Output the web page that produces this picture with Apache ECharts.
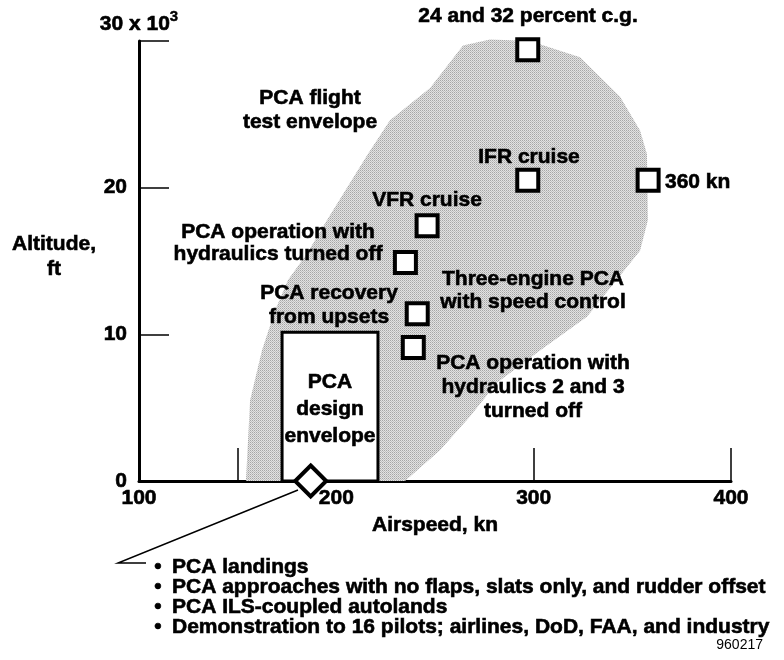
<!DOCTYPE html>
<html>
<head>
<meta charset="utf-8">
<script src="https://cdn.jsdelivr.net/npm/echarts@6/dist/echarts.min.js"></script>
<style>
html, body { margin: 0; background: #fff; }
#chart { width: 784px; height: 660px; }
</style>
</head>
<body>
<div id="chart"></div>
<script>
// PCA flight test envelope outline (airspeed kn, altitude x1000 ft)
var envelopeSpeed = [154.2, 156.3, 162.3, 168.9, 175.5, 185.1, 195.3, 205.4, 216.0, 227.2, 247.5, 264.2, 277.9, 298.1, 323.5, 343.8, 353.9, 357.4, 357.9, 353.9, 327.0, 303.2, 281.4, 267.7, 252.5, 234.8];
var envelopeAlt = [0, 5.5, 8.9, 11.6, 13.7, 15.5, 17.8, 20.0, 22.3, 24.6, 26.8, 29.7, 30.1, 30.0, 28.9, 26.2, 23.9, 22.3, 17.8, 15.7, 11.2, 8.9, 6.7, 4.4, 2.1, 0];

// test points (squares)
var pointSpeed = [297, 297, 358, 246, 235, 241, 239];
var pointAlt = [29.4, 20.5, 20.5, 17.4, 14.9, 11.4, 9.1];

// landing point (diamond)
var landingSpeed = [187];
var landingAlt = [0];

// PCA design envelope box
var designSpeed = [172.5, 221.1];
var designAlt = [0, 10.15];

// axis ticks / labels
var xLabels = [100, 200, 300, 400];
var xTicks = [150, 300, 400];
var yLabels = [0, 10, 20];
var yTicks = [10, 20, 30];

var notes = [
    'PCA landings',
    'PCA approaches with no flaps, slats only, and rudder offset',
    'PCA ILS-coupled autolands',
    'Demonstration to 16 pilots; airlines, DoD, FAA, and industry'
];

var chart = echarts.init(document.getElementById('chart'));
var fam = '"Liberation Sans", Arial, sans-serif';
var boldFont = 'bold 21px ' + fam;

// stipple fill for the envelope
var pat = document.createElement('canvas');
pat.width = 2;
pat.height = 2;
var pctx = pat.getContext('2d');
pctx.fillStyle = '#e2e2e2';
pctx.fillRect(0, 0, 2, 2);
pctx.fillStyle = '#a6a6a6';
pctx.fillRect(0, 0, 1, 1);
pctx.fillStyle = '#c0c0c0';
pctx.fillRect(1, 1, 1, 1);

// texte en gras, un peu épaissi comme le scan
function label(text, x, y, lh, align) {
    return {
        type: 'text',
        z: 50,
        style: {
            text: text,
            x: x,
            y: y,
            font: boldFont,
            fill: '#000',
            stroke: '#000',
            lineWidth: 0.6,
            lineHeight: lh || 23,
            align: align || 'center',
            textAlign: align || 'center',
            verticalAlign: 'middle',
            textVerticalAlign: 'middle'
        }
    };
}

var graphics = [
    label('24 and 32 percent c.g.', 528, 16),
    label('PCA flight\ntest envelope', 310, 110, 24),
    label('IFR cruise', 529, 157),
    label('360 kn', 665, 182, 23, 'left'),
    label('VFR cruise', 427, 200),
    label('PCA operation with\nhydraulics turned off', 278, 243, 22),
    label('PCA recovery\nfrom upsets', 329, 305, 24),
    label('Three-engine PCA\nwith speed control', 533, 291, 23),
    label('PCA operation with\nhydraulics 2 and 3\nturned off', 533, 387, 24),
    label('PCA\ndesign\nenvelope', 330, 409, 27),
    label('Altitude,\nft', 54, 257, 25),
    {
        type: 'polyline',
        z: 50,
        shape: { points: [[298, 490], [118, 563], [146, 563]] },
        style: { stroke: '#000', lineWidth: 1.5, fill: null }
    },
    {
        type: 'text',
        z: 50,
        style: {
            text: '960217',
            x: 763,
            y: 645,
            font: '14px ' + fam,
            fill: '#000',
            align: 'right',
            textAlign: 'right',
            verticalAlign: 'middle',
            textVerticalAlign: 'middle'
        }
    }
];

notes.forEach(function (n, i) {
    graphics.push(label('\u2022', 158, 567 + i * 20, 20));
    graphics.push(label(n, 172, 567 + i * 20, 20, 'left'));
});

var axisText = {
    fontFamily: fam,
    fontWeight: 'bold',
    fontSize: 21,
    color: '#000',
    textBorderColor: '#000',
    textBorderWidth: 0.6
};

var option = {
    animation: false,
    backgroundColor: '#fff',
    grid: {
        left: 139,
        right: 53,
        top: 41,
        bottom: 179
    },
    xAxis: {
        type: 'value',
        min: 100,
        max: 400,
        interval: 50,
        splitLine: { show: false },
        axisLine: { lineStyle: { color: '#000', width: 3 } },
        axisTick: {
            inside: true,
            length: 33,
            customValues: xTicks,
            lineStyle: { color: '#000', width: 1.5 }
        },
        axisLabel: Object.assign({ customValues: xLabels, margin: 7 }, axisText),
        name: 'Airspeed, kn',
        nameLocation: 'middle',
        nameGap: 32,
        nameTextStyle: axisText
    },
    yAxis: {
        type: 'value',
        min: 0,
        max: 30,
        interval: 10,
        splitLine: { show: false },
        axisLine: { show: true, lineStyle: { color: '#000', width: 3 } },
        axisTick: {
            show: true,
            inside: true,
            length: 30,
            customValues: yTicks,
            lineStyle: { color: '#000', width: 1.5 }
        },
        axisLabel: Object.assign({ customValues: yLabels, margin: 12 }, axisText),
        name: '{b|30 x 10}{s|3}',
        nameLocation: 'end',
        nameGap: 6,
        nameTextStyle: {
            rich: {
                b: Object.assign({ lineHeight: 26, verticalAlign: 'bottom' }, axisText),
                s: Object.assign({}, axisText, { fontSize: 15, lineHeight: 16, verticalAlign: 'top', textBorderWidth: 0.4 })
            }
        }
    },
    graphic: graphics,
    series: [
        { // shaded flight test envelope
            type: 'custom',
            silent: true,
            z: 1,
            data: [[envelopeSpeed[0], envelopeAlt[0]]],
            renderItem: function (params, api) {
                var pts = envelopeSpeed.map(function (s, i) {
                    return api.coord([s, envelopeAlt[i]]);
                });
                return {
                    type: 'polygon',
                    shape: { points: pts },
                    style: { fill: { image: pat, repeat: 'repeat' } }
                };
            }
        },
        { // design envelope box
            type: 'custom',
            silent: true,
            z: 3,
            data: [[designSpeed[0], designAlt[1]]],
            renderItem: function (params, api) {
                var p0 = api.coord([designSpeed[0], designAlt[1]]);
                var p1 = api.coord([designSpeed[1], designAlt[0]]);
                return {
                    type: 'rect',
                    shape: { x: p0[0], y: p0[1], width: p1[0] - p0[0], height: p1[1] - p0[1] },
                    style: { fill: '#fff', stroke: '#000', lineWidth: 3 }
                };
            }
        },
        {
            type: 'scatter',
            z: 5,
            clip: false,
            symbol: 'rect',
            symbolSize: 21,
            itemStyle: { color: '#fff', borderColor: '#000', borderWidth: 4, opacity: 1 },
            data: pointSpeed.map(function (s, i) { return [s, pointAlt[i]]; })
        },
        {
            type: 'scatter',
            z: 6,
            clip: false,
            symbol: 'diamond',
            symbolSize: 31,
            itemStyle: { color: '#fff', borderColor: '#000', borderWidth: 4, opacity: 1 },
            data: landingSpeed.map(function (s, i) { return [s, landingAlt[i]]; })
        }
    ]
};

chart.setOption(option);
</script>
</body>
</html>
